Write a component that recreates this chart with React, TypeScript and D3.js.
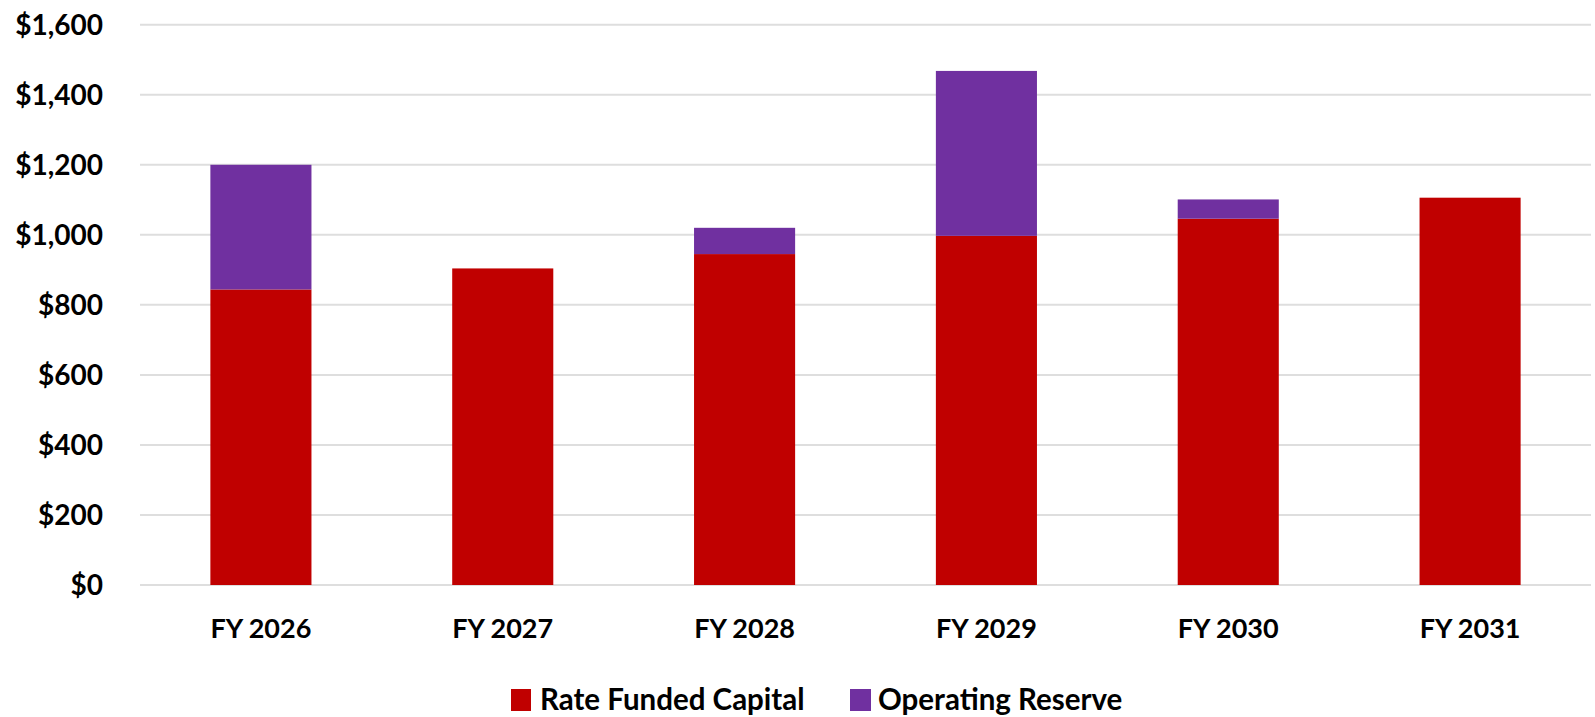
import React from "react";
import * as d3 from "d3";

const categories = ["FY 2026", "FY 2027", "FY 2028", "FY 2029", "FY 2030", "FY 2031"];
const rateFundedCapital = [844, 904, 945, 997, 1046, 1106];
const operatingReserve = [356, 0, 75, 471, 55, 0];
const yTicks = [0, 200, 400, 600, 800, 1000, 1200, 1400, 1600];
const seriesNames = ["Rate Funded Capital", "Operating Reserve"];
const seriesColors = ["#C00000", "#7030A0"];

const W = 1595;
const H = 717;
const FONT = "Lato, 'Open Sans', sans-serif";

export default function App() {
  const x = d3
    .scaleBand<string>()
    .domain(categories)
    .range([140, 1591])
    .paddingInner(0.582)
    .paddingOuter(0.291);
  const y = d3.scaleLinear().domain([0, 1600]).range([585, 24.7]);

  const rows = categories.map((c, i) => ({
    cat: c,
    rfc: rateFundedCapital[i],
    or: operatingReserve[i],
  }));
  const stack = d3.stack<any>().keys(["rfc", "or"])(rows);
  const fmt = (v: number) => "$" + d3.format(",")(v);

  return (
    <svg width={W} height={H} style={{ position: "absolute", left: 0, top: 0, background: "#fff" }}>
      <g>
        {yTicks.map((t) => (
          <line key={t} x1={140} x2={1591} y1={y(t)} y2={y(t)} stroke="#dedede" strokeWidth={2} />
        ))}
      </g>
      <g>
        {yTicks.map((t) => (
          <text
            key={t}
            x={103}
            y={y(t) + 10}
            textAnchor="end"
            fontFamily={FONT}
            fontWeight={700}
            fontSize={28}
            fill="#000"
          >
            {fmt(t)}
          </text>
        ))}
      </g>
      <g>
        {stack.map((s, si) =>
          s.map((d, i) =>
            d[1] - d[0] > 0 ? (
              <rect
                key={si + "-" + i}
                x={x(categories[i])}
                width={x.bandwidth()}
                y={y(d[1])}
                height={y(d[0]) - y(d[1])}
                fill={seriesColors[si]}
              />
            ) : null
          )
        )}
      </g>
      <g>
        {categories.map((c) => (
          <text
            key={c}
            x={(x(c) as number) + x.bandwidth() / 2}
            y={637.5}
            textAnchor="middle"
            fontFamily={FONT}
            fontWeight={700}
            fontSize={27}
            fill="#000"
          >
            {c}
          </text>
        ))}
      </g>
      <g>
        <rect x={511} y={689} width={20} height={22} fill={seriesColors[0]} />
        <text x={540} y={710} fontFamily={FONT} fontWeight={700} fontSize={29.5} fill="#000">
          {seriesNames[0]}
        </text>
        <rect x={850} y={689} width={21} height={22} fill={seriesColors[1]} />
        <text x={878} y={710} fontFamily={FONT} fontWeight={700} fontSize={29.5} fill="#000">
          {seriesNames[1]}
        </text>
      </g>
    </svg>
  );
}
